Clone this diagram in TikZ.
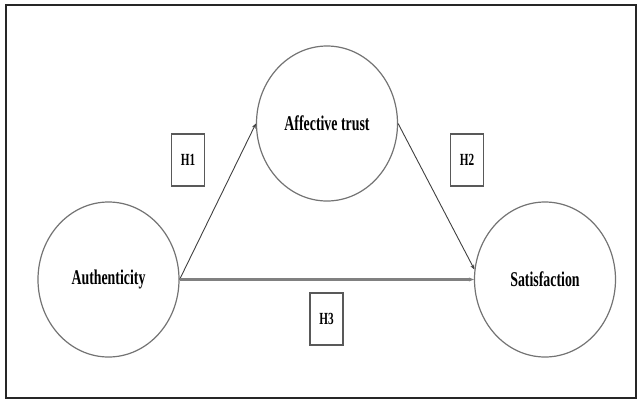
\documentclass[tikz,border=0pt]{standalone}
\usepackage{fontspec}
\setmainfont[FakeStretch=0.66]{Liberation Serif}
\usetikzlibrary{shapes.geometric, arrows.meta, positioning}
\tikzstyle{construct} = [ellipse, minimum width=141pt, minimum height=155pt, draw=black!55, line width=1.2pt, font=\fontsize{21}{24}\selectfont\bfseries, inner sep=0pt]
\tikzstyle{hbox} = [rectangle, minimum width=33pt, minimum height=52pt, draw=black!65, line width=1.1pt, font=\fontsize{17}{20}\selectfont\bfseries, inner sep=0pt]
\tikzstyle{arrow} = [black!75, line width=0.9pt, -{Stealth[length=5pt, width=4pt]}]

\begin{document}
\begin{tikzpicture}[x=1pt, y=-1pt]
  \useasboundingbox (0,0) rectangle (638,400);
  \draw[line width=1.8pt, black!85] (6,5) rectangle (636,398);

  \node[construct] (auth) at (108.5,279.5) {Authenticity};
  \node[construct] (trust) at (327,123.5) {Affective trust};
  \node[construct] (sat) at (545,279.5) {Satisfaction};

  % Hypotheses
  \node[hbox] (h1) at (188,160) {H1};
  \node[hbox] (h2) at (467,160) {H2};
  \node[hbox] (h3) at (326.5,319) {H3};

  % Paths
  \draw[arrow] (auth.east) -- (trust.west);
  \draw[arrow] (trust.east) -- (sat.172);
  \draw[arrow, black!50, line width=2.4pt] (auth.east) -- (sat.west);
\end{tikzpicture}
\end{document}
